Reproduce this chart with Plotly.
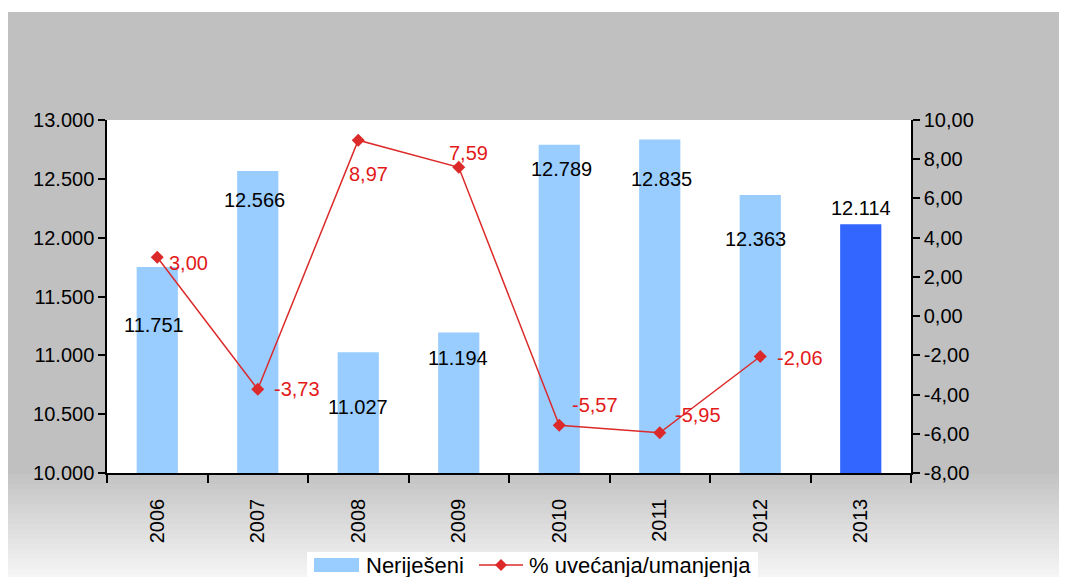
import plotly.graph_objects as go

years = [2006, 2007, 2008, 2009, 2010, 2011, 2012, 2013]
nerijeseni = [11751, 12566, 11027, 11194, 12789, 12835, 12363, 12114]
promjena = [3.00, -3.73, 8.97, 7.59, -5.57, -5.95, -2.06, None]

left_ticks = [10000, 10500, 11000, 11500, 12000, 12500, 13000]
right_ticks = [-8, -6, -4, -2, 0, 2, 4, 6, 8, 10]

bar_name = "Neriješeni"
line_name = "% uvećanja/umanjenja"
bar_colors = ["#99ccff"] * 7 + ["#3366ff"]
red = "#dc2a2a"

# label offsets (px), labels were moved by hand in the original
bar_lbl_dx = [-3, -3, 0, -1, 2, 2, -5, 0]
bar_lbl_dy = [-58, -29, -55, -25, -24, -40, -44, 16]
pct_lbl_dx = [10, 14, -11, -12, 11, 13, 15]
pct_lbl_dy = [-6, 0, -34, 14, 20, 18, -1]

# page has 8px body margin, so figure is drawn at (8, 8); keep it inside the window
OFF = 8
W, H = 1067 - 2 * OFF, 585 - 2 * OFF
L, T = 107 - OFF, 120 - OFF
R, B = W - (911 - OFF), H - (473 - OFF)
pw, ph = W - L - R, H - T - B


def px(x):
    # page pixel -> paper x
    return (x - OFF - L) / pw


def py(y):
    # page pixel -> paper y
    return (H - B - (y - OFF)) / ph


def thousands(v):
    return "{:,}".format(v).replace(",", ".")


def decimal2(v):
    return "{:.2f}".format(v).replace(".", ",")


font = "Liberation Sans, Arial, sans-serif"

fig = go.Figure()
fig.add_trace(go.Bar(x=years, y=nerijeseni, name=bar_name,
                     marker=dict(color=bar_colors, line=dict(width=0))))
fig.add_trace(go.Scatter(x=years, y=promjena, name=line_name, yaxis="y2",
                         mode="lines+markers",
                         line=dict(color=red, width=1.5),
                         marker=dict(symbol="diamond", size=10, color=red)))


def rect(x0, y0, x1, y1, color, layer="below"):
    return dict(type="rect", xref="paper", yref="paper", layer=layer,
                x0=px(x0), x1=px(x1), y0=py(y1), y1=py(y0),
                fillcolor=color, line=dict(width=0))


# gray background with fade at the bottom
shapes = [rect(8, 12, 1075, 474, "#c0c0c0")]
n = 22
for i in range(n):
    y0 = 474 + i * 5
    c = int(194 + (248 - 194) * (i + 1) / n)
    shapes.append(rect(8, y0, 1075, y0 + 5.5, "rgb(%d,%d,%d)" % (c, c, c)))
shapes.append(dict(type="rect", xref="paper", yref="paper", layer="below",
                   x0=0, x1=1, y0=0, y1=1, fillcolor="white", line=dict(width=0)))

# legend drawn by hand (box is cut off by the bottom edge in the original)
lg_y = 565
shapes.append(rect(307, lg_y - 13, 758, 600, "white", "above"))
shapes.append(rect(314, lg_y - 7, 359, lg_y + 7, bar_colors[0], "above"))
shapes.append(dict(type="line", xref="paper", yref="paper", layer="above",
                   x0=px(479), x1=px(523), y0=py(lg_y), y1=py(lg_y),
                   line=dict(color=red, width=1.5)))
shapes.append(dict(type="path", xref="paper", yref="paper", layer="above",
                   path="M %f %f L %f %f L %f %f L %f %f Z" % (
                       px(501), py(lg_y - 6), px(507), py(lg_y), px(501), py(lg_y + 6),
                       px(495), py(lg_y)),
                   fillcolor=red, line=dict(width=0)))

annotations = []
for i, (yr, v) in enumerate(zip(years, nerijeseni)):
    annotations.append(dict(x=yr, y=v, xref="x", yref="y", showarrow=False,
                            text=thousands(v),
                            xshift=bar_lbl_dx[i], yshift=bar_lbl_dy[i],
                            font=dict(size=20, color="black", family=font)))
for i, (yr, v) in enumerate(zip(years, promjena)):
    if v is None:
        continue
    annotations.append(dict(x=yr, y=v, xref="x", yref="y2", showarrow=False,
                            text=decimal2(v),
                            xanchor="left", xshift=pct_lbl_dx[i], yshift=pct_lbl_dy[i],
                            font=dict(size=20, color="#e31a1a", family=font)))
for name, x in [(bar_name, 364), (line_name, 527)]:
    annotations.append(dict(x=px(x), y=py(lg_y), xref="paper", yref="paper",
                            showarrow=False, text=name, xanchor="left", yanchor="middle",
                            font=dict(size=22, color="black", family=font)))

axis_common = dict(showline=True, linecolor="black", linewidth=1.5, ticks="outside",
                   tickcolor="black", tickwidth=1.5, ticklen=7, showgrid=False,
                   zeroline=False, automargin=False,
                   tickfont=dict(size=20, color="black", family=font))

fig.update_layout(
    template="none",
    width=W, height=H,
    margin=dict(l=L, r=R, t=T, b=B),
    paper_bgcolor="white",
    plot_bgcolor="white",
    bargap=0.59,
    showlegend=False,
    font=dict(family=font, color="black"),
    shapes=shapes,
    annotations=annotations,
    xaxis=dict(axis_common, range=[years[0] - 0.5, years[-1] + 0.5],
               tickmode="array", tickvals=years, ticktext=[str(y) for y in years],
               tickangle=-90, ticklen=0, ticklabelstandoff=16,
               minor=dict(tickmode="linear", tick0=years[0] - 0.5, dtick=1,
                          ticks="outside", ticklen=8, tickwidth=1.5, tickcolor="black",
                          showgrid=False)),
    yaxis=dict(axis_common, range=[left_ticks[0], left_ticks[-1]], tickmode="array",
               tickvals=left_ticks, ticktext=[thousands(v) for v in left_ticks]),
    yaxis2=dict(axis_common, overlaying="y", side="right",
                range=[right_ticks[0], right_ticks[-1]], tickmode="array",
                tickvals=right_ticks, ticktext=[decimal2(v) for v in right_ticks]),
)

fig.write_html("out.html")
